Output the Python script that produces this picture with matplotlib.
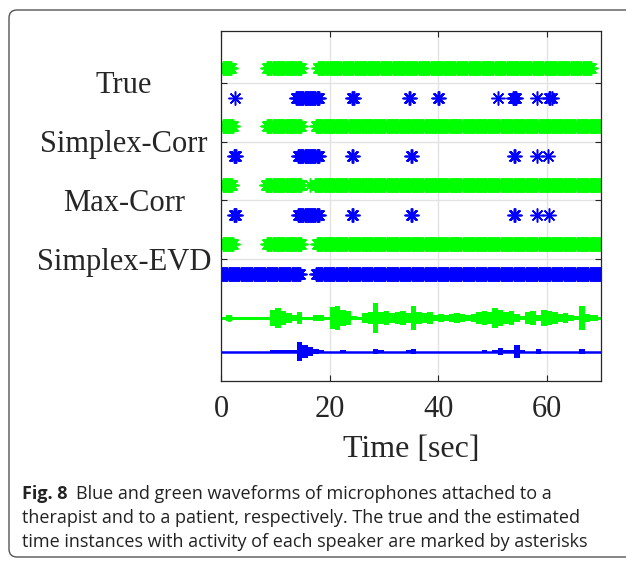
import numpy as np
import matplotlib.pyplot as plt
from matplotlib.patches import FancyBboxPatch

# activity segments (start, end) in seconds
true_green = [(0.3, 2.0), (8.5, 14.8), (17.8, 19.0), (19.4, 68.2)]
true_blue = [(2.6, 2.6), (13.8, 18.0), (24.1, 24.5), (34.7, 34.9), (39.9, 40.1),
             (51.0, 51.0), (53.8, 54.4), (58.2, 58.2), (60.5, 61.0)]
corr_green = [(0.3, 2.3), (8.5, 14.8), (17.5, 70.0)]
corr_blue = [(2.4, 2.8), (14.2, 18.0), (24.2, 24.5), (35.0, 35.3), (53.9, 54.1),
             (58.2, 58.2), (60.2, 60.2)]
max_green = [(0.3, 2.2), (8.3, 14.8), (16.4, 16.4), (17.3, 70.0)]
max_blue = [(2.4, 2.8), (14.2, 18.0), (24.2, 24.5), (35.0, 35.3), (53.9, 54.1),
            (58.2, 58.2), (60.4, 60.4)]
evd_green = [(0.3, 2.3), (8.5, 14.8), (17.7, 70.0)]
evd_blue = [(0.2, 14.7), (17.5, 70.0)]

methods = ["True", "Simplex-Corr", "Max-Corr", "Simplex-EVD"]
green_rows = [true_green, corr_green, max_green, evd_green]
blue_rows = [true_blue, corr_blue, max_blue, evd_blue]

# waveform envelopes (relative amplitude), one value per second, t = 0..69
wave_t = np.arange(70)
green_env = [0, 3, 0, 0, 0, 0, 0, 0, 0, 8, 9, 7, 5, 3, 6, 0, 0, 3, 3, 0,
             10, 11, 8, 7, 2, 1, 5, 6, 14, 6, 7, 5, 6, 7, 5, 11, 6, 5, 6, 3,
             4, 3, 4, 5, 4, 3, 4, 6, 7, 6, 9, 8, 6, 7, 4, 2, 6, 7, 3, 8,
             7, 6, 4, 5, 3, 2, 11, 4, 3, 3]
blue_env = [0, 0, 0, 0, 0, 0, 0, 0, 0, 1, 1, 1, 1, 1, 9, 6, 4, 2, 1, 0,
            0, 0, 1, 0, 0, 0, 0, 0, 2, 1, 0, 0, 0, 0, 1, 2, 0, 0, 0, 0,
            0, 0, 0, 0, 0, 0, 0, 0, 1, 0, 1, 3, 1, 1, 6, 1, 0, 0, 2, 0,
            0, 0, 0, 0, 0, 0, 2, 0, 0, 0]

GREEN = "#00ff00"
BLUE = "#0000ff"
frame = 0.2


def frames(segments):
    return np.concatenate([np.arange(a, b + 1e-9, frame) for a, b in segments])


fig = plt.figure(figsize=(6.26, 5.66), dpi=100)
ax = fig.add_axes([0.353, 0.327, 0.607, 0.618])

ypos = [4, 3, 2, 1]
star = (8, 2, 0)
for y, g, b in zip(ypos, green_rows, blue_rows):
    tg = frames(g)
    ax.plot(tg, np.full_like(tg, y + 0.26), linestyle="none", marker=star,
            markersize=10, markeredgewidth=1.1, color=GREEN)
    tb = frames(b)
    ax.plot(tb, np.full_like(tb, y - 0.25), linestyle="none", marker=star,
            markersize=10, markeredgewidth=1.1, color=BLUE)

# waveforms
scale = 0.018
ge = np.array(green_env) * scale
be = np.array(blue_env) * scale
ax.fill_between(wave_t + 0.5, 0 - ge, 0 + ge, step="mid", color=GREEN, lw=0)
ax.plot([0, 70], [0, 0], color=GREEN, lw=2.2)
ax.plot([1.5], [0], "o", color=GREEN, ms=4)
ax.fill_between(wave_t + 0.5, -0.57 - be, -0.57 + be, step="mid", color=BLUE, lw=0)
ax.plot([0, 70], [-0.57, -0.57], color=BLUE, lw=1.8)

ax.set_xlim(0, 70)
ax.set_ylim(-1.07, 4.88)
ax.set_xticks([0, 20, 40, 60])
ax.set_yticks(ypos)
ax.set_yticklabels([])
ax.grid(True, color="#e3e3e3", lw=1)
ax.set_axisbelow(True)
ax.tick_params(direction="in", top=True, right=True, length=4, width=0.8,
               color="#262626", labelsize=22, pad=10)
for lab in ax.get_xticklabels():
    lab.set_fontfamily("Liberation Serif")
    lab.set_color("#262626")
for y, name in zip(ypos, methods):
    ax.text(-0.255, y - 0.05, name, transform=ax.get_yaxis_transform(), ha="center",
            va="center", fontsize=22, family="Liberation Serif", color="#262626")
for s in ax.spines.values():
    s.set_color("#262626")
    s.set_linewidth(0.9)
ax.set_xlabel("Time [sec]", fontsize=23, family="Liberation Serif",
              color="#262626", labelpad=8)

# caption frame
box = FancyBboxPatch((9, 9), 700, 547, boxstyle="round,pad=0,rounding_size=8",
                     transform=None, facecolor="none", edgecolor="#555555", lw=1)
fig.patches.append(box)

cap_kw = dict(fontsize=13, family="Open Sans", color="#222222", va="center")
bold = fig.text(22 / 626, 1 - 494 / 566, "Fig. 8", fontweight="bold", **cap_kw)
fig.canvas.draw()
bb = bold.get_window_extent()
fig.text((bb.x1 + 8) / 626, 1 - 494 / 566,
         "Blue and green waveforms of microphones attached to a", **cap_kw)
fig.text(22 / 626, 1 - 518 / 566,
         "therapist and to a patient, respectively. The true and the estimated", **cap_kw)
fig.text(22 / 626, 1 - 542 / 566,
         "time instances with activity of each speaker are marked by asterisks", **cap_kw)

fig.savefig("out.png", dpi=100)
